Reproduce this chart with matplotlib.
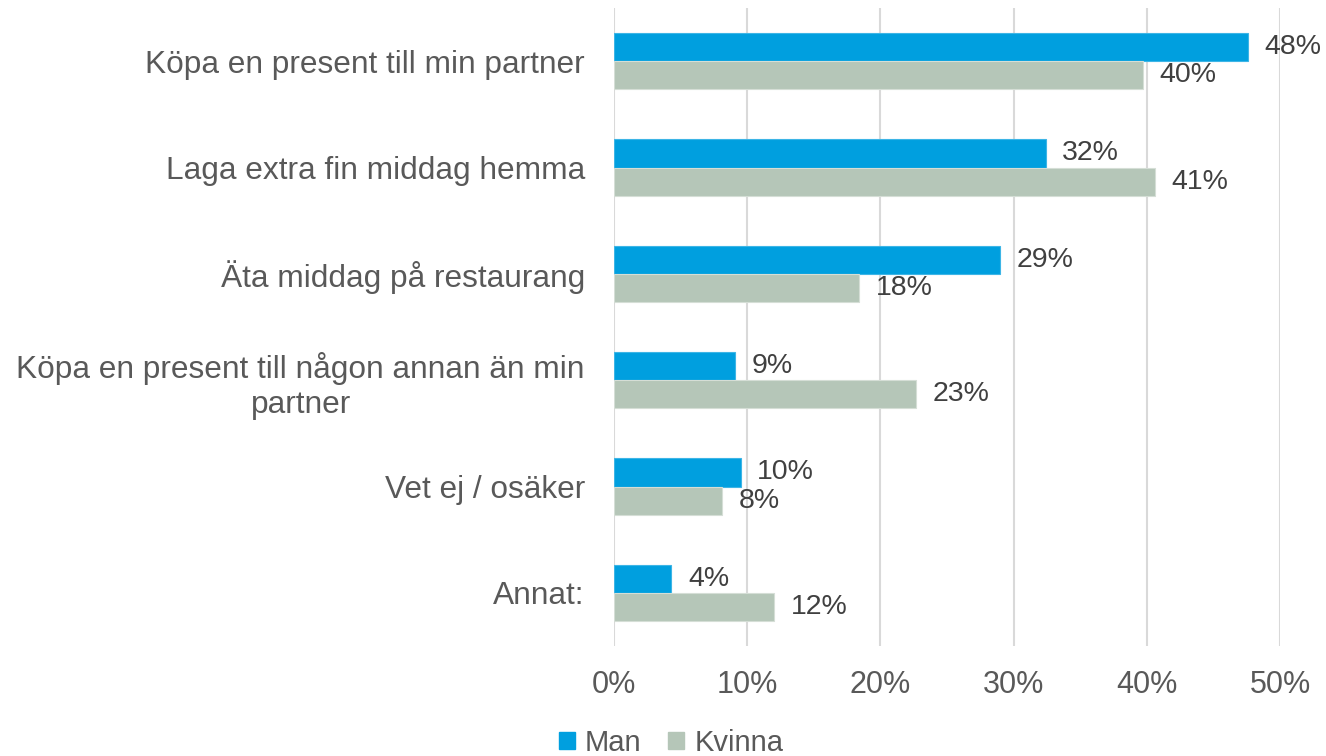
import matplotlib
matplotlib.use("Agg")
import matplotlib.pyplot as plt
from matplotlib.patches import Patch
import numpy as np

categories = ["Köpa en present till min partner", "Laga extra fin middag hemma",
              "Äta middag på restaurang", "Köpa en present till någon annan än min\npartner",
              "Vet ej / osäker", "Annat:"]
man = [47.6, 32.4, 29.0, 9.1, 9.5, 4.3]
kvinna = [39.7, 40.6, 18.4, 22.7, 8.1, 12.0]
man_labels = ["48%", "32%", "29%", "9%", "10%", "4%"]
kvinna_labels = ["40%", "41%", "18%", "23%", "8%", "12%"]
xticks = [0, 10, 20, 30, 40, 50]
xtick_labels = ["0%", "10%", "20%", "30%", "40%", "50%"]

plt.rcParams['font.family'] = ['Liberation Sans', 'DejaVu Sans']
c_man = "#009FDF"
c_kv = "#B5C6B8"

fig = plt.figure(figsize=(13.26, 7.56), dpi=100)
ax = fig.add_axes([614/1326, 1-646/756, (1280-614)/1326, (646-8)/756])

n = len(categories)
y = np.arange(n)
h = 0.264
ax.barh(y - h/2, man, height=h, color=c_man, edgecolor="#3DB5E6", linewidth=0.8, zorder=3)
ax.barh(y + h/2, kvinna, height=h, color=c_kv, edgecolor="#D5DED6", linewidth=0.8, zorder=3)

for i in range(n):
    ax.annotate(man_labels[i], (man[i], y[i] - h/2), xytext=(12, 0), textcoords="offset points",
                va="center", ha="left", fontsize=20.5, color="#404040")
    ax.annotate(kvinna_labels[i], (kvinna[i], y[i] + h/2), xytext=(12, 0), textcoords="offset points",
                va="center", ha="left", fontsize=20.5, color="#404040")

ax.set_ylim(n - 0.5, -0.5)
ax.set_xlim(0, 50)
ax.set_xticks(xticks)
ax.set_xticklabels(xtick_labels, fontsize=22, color="#595959")
ax.set_yticks(y)
ax.set_yticklabels(categories, fontsize=22.8, color="#595959", linespacing=1.2)
for t in ax.get_yticklabels():
    t.set_multialignment("center")
ax.tick_params(axis="both", length=0)
ax.tick_params(axis="x", pad=17)
ax.tick_params(axis="y", pad=21)
for s in ax.spines.values():
    s.set_visible(False)
ax.grid(axis="x", color="#D9D9D9", linewidth=1.5, zorder=0)
ax.set_axisbelow(True)

handles = [Patch(color=c_man, label="Man"), Patch(color=c_kv, label="Kvinna")]
fig.legend(handles=handles, loc="center", bbox_to_anchor=(671/1326, 1-743/756), ncol=2,
           frameon=False, fontsize=21, handlelength=0.55, handleheight=0.55, handletextpad=0.35,
           columnspacing=0.9, labelcolor="#595959", borderpad=0, borderaxespad=0)

fig.savefig("out.png", dpi=100)
